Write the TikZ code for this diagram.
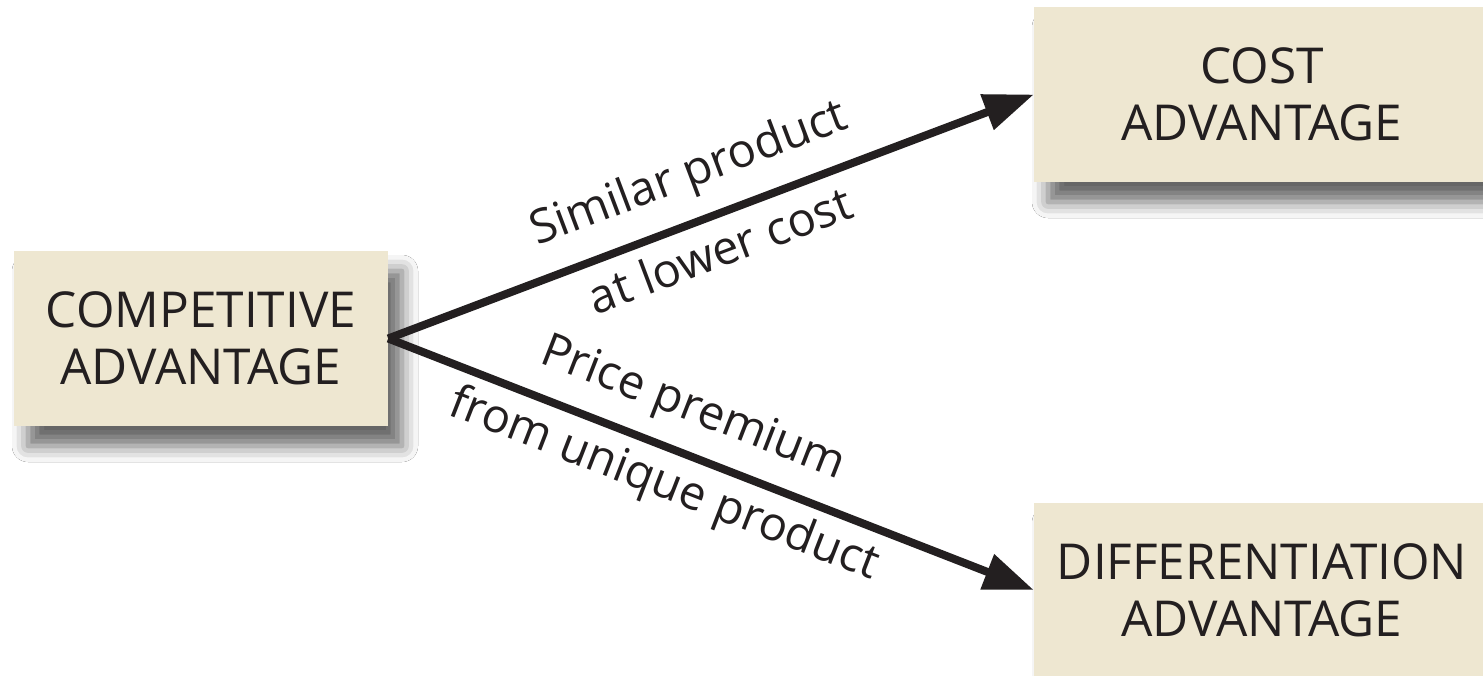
\documentclass[tikz,border=0pt]{standalone}
\usepackage{fontspec}
\setmainfont{Open Sans}
\usetikzlibrary{arrows.meta,shadows.blur,calc}
\definecolor{boxfill}{RGB}{238,231,209}
\definecolor{ink}{RGB}{35,31,32}
\begin{document}
\begin{tikzpicture}[x=1pt,y=-1pt,
  advbox/.style={fill=boxfill, draw=none, inner sep=0pt, align=center, text=ink,
    font=\fontsize{49.5}{57}\selectfont,
    blur shadow={shadow xshift=14pt, shadow yshift=-20pt, shadow blur radius=16pt, shadow opacity=60}},
  link/.style={draw=ink, line width=8pt, -{Triangle[length=50pt,width=36pt]}},
  lbl/.style={text=ink, font=\fontsize{47}{50}\selectfont, inner sep=0pt}]
\useasboundingbox (0,0) rectangle (1483,675);
\fill[white] (0,0) rectangle (1483,675);
\clip (0,0) rectangle (1483,675);
\node[advbox, minimum width=374pt, minimum height=175pt] (comp) at (201,338.5) {COMPETITIVE\\ADVANTAGE};
\node[advbox, minimum width=456pt, minimum height=175pt] (cost) at (1262,94.5) {COST\\ADVANTAGE};
\node[advbox, minimum width=456pt, minimum height=175pt] (diff) at (1262,590) {DIFFERENTIATION\\ADVANTAGE};
\draw[link] (comp.east) -- (cost.west) coordinate[pos=0.492] (u1) coordinate[pos=0.495] (u2);
\draw[link] (comp.east) -- (diff.west) coordinate[pos=0.447] (d1) coordinate[pos=0.447] (d2);
\node[lbl, rotate=20.69] (l1) at ($(u1)!46pt!90:(cost.west)$) {Similar product};
\node[lbl, rotate=20.69] (l2) at ($(u2)!34pt!-90:(cost.west)$) {at lower cost};
\node[lbl, rotate=-21.27] (l3) at ($(d1)!44pt!90:(diff.west)$) {Price premium};
\node[lbl, rotate=-21.27] (l4) at ($(d2)!37pt!-90:(diff.west)$) {from unique product};
\end{tikzpicture}
\end{document}
